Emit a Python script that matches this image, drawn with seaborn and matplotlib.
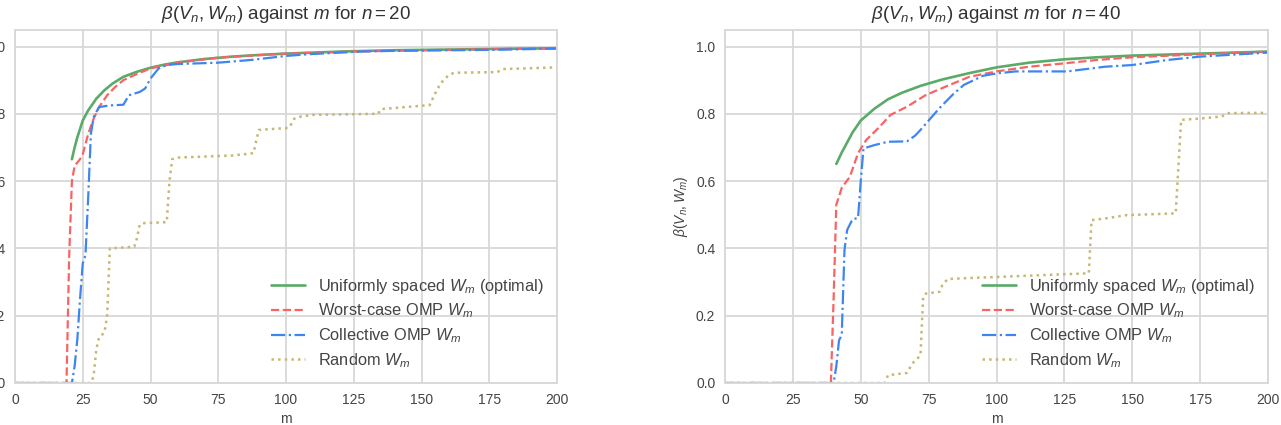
import matplotlib
matplotlib.use("Agg")
import matplotlib.pyplot as plt
import seaborn as sns
import pandas as pd

# ---------------- data ----------------
# n = 20
u20_m = [21, 22, 23, 24, 25, 27, 30, 33, 36, 40, 45, 50, 55, 60, 70, 80, 90, 100, 120, 140, 160, 180, 200]
u20_v = [0.665, 0.70, 0.73, 0.755, 0.78, 0.81, 0.845, 0.87, 0.89, 0.91, 0.925, 0.937, 0.946, 0.953,
         0.963, 0.970, 0.975, 0.979, 0.985, 0.989, 0.991, 0.993, 0.995]

w20_m = [0, 18, 19, 20, 21, 22, 24, 25, 27, 29, 31, 34, 37, 40, 44, 50, 60, 75, 100, 125, 150, 200]
w20_v = [0, 0, 0.0, 0.38, 0.60, 0.645, 0.665, 0.68, 0.74, 0.785, 0.82, 0.855, 0.88, 0.90, 0.915,
         0.935, 0.952, 0.967, 0.979, 0.985, 0.989, 0.995]

c20_m = [0, 20, 21, 22, 23, 24, 25, 26, 27, 28, 29, 31, 35, 40, 42, 46, 48, 50, 53, 56, 60, 75, 87,
         100, 108, 130, 150, 175, 200]
c20_v = [0, 0, 0.0, 0.05, 0.13, 0.25, 0.355, 0.38, 0.55, 0.74, 0.79, 0.82, 0.825, 0.827, 0.855, 0.865,
         0.875, 0.905, 0.935, 0.945, 0.948, 0.952, 0.96, 0.972, 0.977, 0.986, 0.988, 0.990, 0.994]

r20_m = [0, 28, 29, 30, 31, 33, 34, 35, 44, 45, 46, 47, 56, 57, 58, 60, 70, 80, 88, 89, 90, 95, 101,
         102, 103, 104, 110, 134, 135, 153, 155, 157, 160, 162, 178, 180, 200]
r20_v = [0, 0, 0.02, 0.10, 0.135, 0.15, 0.20, 0.40, 0.405, 0.43, 0.47, 0.475, 0.478, 0.60, 0.665, 0.67,
         0.673, 0.676, 0.683, 0.72, 0.752, 0.755, 0.758, 0.77, 0.785, 0.79, 0.797, 0.80, 0.814, 0.826,
         0.86, 0.89, 0.915, 0.922, 0.924, 0.933, 0.938]

# n = 40
u40_m = [41, 43, 45, 47, 50, 55, 60, 65, 72, 80, 90, 100, 112, 125, 137, 150, 175, 200]
u40_v = [0.651, 0.685, 0.715, 0.745, 0.78, 0.815, 0.843, 0.862, 0.883, 0.902, 0.921, 0.938, 0.952,
         0.962, 0.968, 0.973, 0.979, 0.985]

w40_m = [0, 39, 40, 41, 43, 46, 49, 52, 57, 61, 67, 74, 84, 90, 100, 112, 125, 137, 150, 175, 200]
w40_v = [0, 0, 0.25, 0.53, 0.58, 0.613, 0.683, 0.722, 0.762, 0.797, 0.821, 0.856, 0.89, 0.91, 0.926,
         0.94, 0.95, 0.96, 0.968, 0.977, 0.985]

c40_m = [0, 40, 41, 42, 43, 44, 45, 47, 49, 50, 51, 55, 60, 67, 70, 72, 75, 79, 84, 88, 95, 100, 107,
         126, 140, 150, 163, 175, 200]
c40_v = [0, 0, 0.05, 0.127, 0.142, 0.395, 0.455, 0.487, 0.49, 0.60, 0.697, 0.707, 0.717, 0.718, 0.735,
         0.752, 0.78, 0.817, 0.858, 0.886, 0.913, 0.92, 0.926, 0.926, 0.94, 0.945, 0.96, 0.97, 0.982]

r40_m = [0, 59, 60, 67, 69, 72, 73, 74, 79, 80, 82, 90, 100, 115, 134, 135, 140, 148, 166, 168, 175,
         183, 185, 200]
r40_v = [0, 0, 0.023, 0.03, 0.058, 0.082, 0.256, 0.266, 0.271, 0.29, 0.309, 0.312, 0.315, 0.32, 0.326,
         0.484, 0.489, 0.499, 0.504, 0.782, 0.786, 0.792, 0.802, 0.803]

labels = ["Uniformly spaced $W_m$ (optimal)", "Worst-case OMP $W_m$",
          "Collective OMP $W_m$", "Random $W_m$"]
titles = [r"$\beta(V_n, W_m)$ against $m$ for $n = 20$",
          r"$\beta(V_n, W_m)$ against $m$ for $n = 40$"]
xticks = [0, 25, 50, 75, 100, 125, 150, 175, 200]
yticks = [0.0, 0.2, 0.4, 0.6, 0.8, 1.0]

# ---------------- style ----------------
sns.set_style("whitegrid", {"grid.color": "#d8d8d8", "axes.edgecolor": "#d8d8d8"})
plt.rcParams["font.family"] = ["Liberation Sans", "DejaVu Sans"]
plt.rcParams["mathtext.fontset"] = "custom"
plt.rcParams["mathtext.rm"] = "Liberation Sans"
plt.rcParams["mathtext.it"] = "Liberation Sans:italic"
plt.rcParams["mathtext.bf"] = "Liberation Sans:bold"
plt.rcParams["grid.linewidth"] = 1.3
plt.rcParams["axes.linewidth"] = 1.3

colors = ["#5aaa68", "#f86464", "#3d86f2", "#c4b872"]
styles = ["-", "--", "-.", ":"]
widths = [1.9, 1.6, 1.6, 1.8]

fig = plt.figure(figsize=(12.81, 4.25), dpi=100)
ax1 = fig.add_axes([15 / 1281, 42 / 425, 542 / 1281, 353.3 / 425])
ax2 = fig.add_axes([725 / 1281, 42 / 425, 543 / 1281, 353.3 / 425])

series = [
    [(u20_m, u20_v), (w20_m, w20_v), (c20_m, c20_v), (r20_m, r20_v)],
    [(u40_m, u40_v), (w40_m, w40_v), (c40_m, c40_v), (r40_m, r40_v)],
]

for ax, ser, title in zip([ax1, ax2], series, titles):
    for (mm, vv), lab, col, ls, lw in zip(ser, labels, colors, styles, widths):
        df = pd.DataFrame({"m": mm, "beta": vv})
        sns.lineplot(data=df, x="m", y="beta", ax=ax, color=col, linestyle=ls,
                     linewidth=lw, label=lab)
    ax.set_xlim(0, 200)
    ax.set_ylim(0, 1.05)
    ax.set_xticks(xticks)
    ax.set_yticks(yticks)
    ax.set_yticklabels([f"{t:.1f}" for t in yticks])
    ax.tick_params(labelsize=10, colors="#444444")
    ax.set_xlabel("m", fontsize=10, color="#444444")
    ax.set_ylabel("")
    ax.set_title(title, fontsize=13.5, color="#333333", pad=8)
    leg = ax.legend(loc="lower right", frameon=False, fontsize=11.8,
                    handlelength=2.1, labelspacing=0.37, borderaxespad=0.4)
    for t in leg.get_texts():
        t.set_color("#444444")

ax2.set_ylabel(r"$\beta(V_n, W_m)$", fontsize=10, color="#444444")

fig.savefig("out.png", dpi=100)
